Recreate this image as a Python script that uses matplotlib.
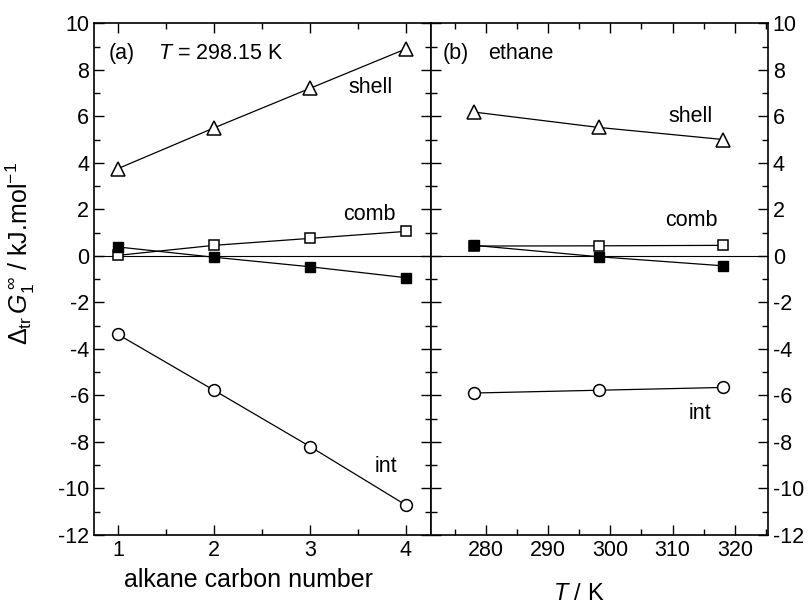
import matplotlib.pyplot as plt
from matplotlib.ticker import MultipleLocator

plt.rcParams['font.family'] = ['Liberation Sans', 'DejaVu Sans']
plt.rcParams['mathtext.fontset'] = 'custom'
plt.rcParams['mathtext.rm'] = 'Liberation Sans'
plt.rcParams['mathtext.it'] = 'Liberation Sans:italic'
plt.rcParams['axes.unicode_minus'] = False

# (a) alkanes at 298.15 K
carbon_number = [1, 2, 3, 4]
shell_a = [3.75, 5.5, 7.2, 8.9]
comb_a = [0.02, 0.45, 0.75, 1.05]
total_a = [0.38, -0.06, -0.47, -0.94]
int_a = [-3.38, -5.78, -8.2, -10.72]

# (b) ethane vs temperature
temperature = [278.15, 298.15, 318.15]
shell_b = [6.18, 5.52, 5.0]
comb_b = [0.42, 0.43, 0.45]
total_b = [0.45, -0.04, -0.43]
int_b = [-5.9, -5.78, -5.66]

fig = plt.figure(figsize=(8.1, 6.12), dpi=100)
ax1 = fig.add_axes([0.116, 0.126, 0.416, 0.836])
ax2 = fig.add_axes([0.532, 0.126, 0.416, 0.836])

line_kw = dict(color='black', lw=0.9)


def draw_series(ax, x, shell, comb, total, inter):
    ax.axhline(0, color='black', lw=0.8, zorder=1)
    ax.plot(x, shell, marker='^', ms=10, mfc='white', mec='black', mew=1.1, **line_kw)
    ax.plot(x, comb, marker='s', ms=7.5, mfc='white', mec='black', mew=1.1, **line_kw)
    ax.plot(x, total, marker='s', ms=7.5, mfc='black', mec='black', **line_kw)
    ax.plot(x, inter, marker='o', ms=8.5, mfc='white', mec='black', mew=1.1, **line_kw)


draw_series(ax1, carbon_number, shell_a, comb_a, total_a, int_a)
draw_series(ax2, temperature, shell_b, comb_b, total_b, int_b)

for ax in (ax1, ax2):
    ax.set_ylim(-12, 10)
    ax.yaxis.set_major_locator(MultipleLocator(2))
    ax.yaxis.set_minor_locator(MultipleLocator(1))
    ax.tick_params(which='both', direction='in', top=True, right=True,
                   labelsize=15.5, width=1)
    ax.tick_params(which='major', length=7)
    ax.tick_params(which='minor', length=4)
    for s in ax.spines.values():
        s.set_linewidth(1.2)

ax1.set_xlim(0.75, 4.26)
ax1.set_xticks(carbon_number)
ax1.xaxis.set_minor_locator(MultipleLocator(0.5))
ax1.set_xlabel('alkane carbon number', fontsize=18)
ax1.xaxis.set_label_coords(0.46, -0.065)
ax1.set_ylabel(r'$\Delta_{\rm tr}\,G_1^{\,\infty}$ / kJ.mol$^{-1}$', fontsize=18)
ax1.yaxis.set_label_coords(-0.17, 0.55)

ax2.set_xlim(271.2, 325.3)
ax2.xaxis.set_major_locator(MultipleLocator(10))
ax2.xaxis.set_minor_locator(MultipleLocator(5))
ax2.tick_params(axis='y', labelleft=False, labelright=True)
ax2.set_xlabel(r'$T$ / K', fontsize=17)
ax2.xaxis.set_label_coords(0.44, -0.094)

ax1.text(0.045, 0.94, '(a)', transform=ax1.transAxes, fontsize=15.5, va='center')
ax1.text(0.19, 0.94, r'$T$ = 298.15 K', transform=ax1.transAxes, fontsize=15.5, va='center')
ax1.text(3.4, 7.0, 'shell', fontsize=15.5)
ax1.text(3.35, 1.55, 'comb', fontsize=15.5)
ax1.text(3.67, -9.3, 'int', fontsize=15.5)

ax2.text(0.035, 0.94, '(b)', transform=ax2.transAxes, fontsize=15.5, va='center')
ax2.text(0.17, 0.94, 'ethane', transform=ax2.transAxes, fontsize=15.5, va='center')
ax2.text(309.3, 5.75, 'shell', fontsize=15.5)
ax2.text(308.8, 1.3, 'comb', fontsize=15.5)
ax2.text(312.6, -7.0, 'int', fontsize=15.5)

fig.savefig('out.png', dpi=100)
